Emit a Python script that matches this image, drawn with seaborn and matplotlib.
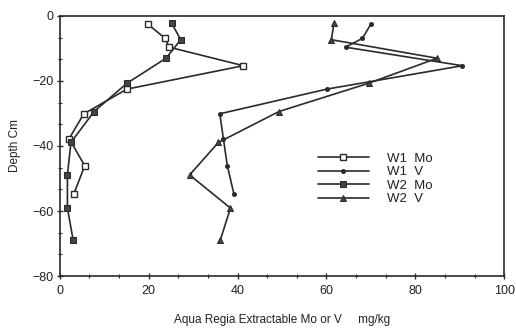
import numpy as np
import pandas as pd
import matplotlib
matplotlib.use("Agg")
import matplotlib.pyplot as plt
from matplotlib.ticker import MultipleLocator
import seaborn as sns

# Depth profiles (cm, negative downward) and aqua regia extractable contents (mg/kg)
w1_depth = [-2.5, -6.9, -9.6, -15.3, -22.5, -30.1, -37.7, -46.1, -54.9]
w1_mo = [19.8, 23.7, 24.6, 41.3, 15.1, 5.4, 2.1, 5.6, 3.1]
w1_v = [70.0, 68.1, 64.3, 90.6, 60.1, 36.0, 36.8, 37.7, 39.2]

w2_depth = [-2.3, -7.3, -13.0, -20.7, -29.4, -38.9, -48.9, -59.1, -69.0]
w2_mo = [25.2, 27.2, 23.9, 15.1, 7.7, 2.5, 1.7, 1.7, 3.0]
w2_v = [61.7, 61.1, 84.9, 69.5, 49.3, 35.7, 29.2, 38.4, 36.1]

series_labels = ["W1  Mo", "W1  V", "W2  Mo", "W2  V"]

frames = []
for lab, vals, dep in zip(series_labels, [w1_mo, w1_v, w2_mo, w2_v],
                          [w1_depth, w1_depth, w2_depth, w2_depth]):
    frames.append(pd.DataFrame({"value": vals, "depth": dep, "series": lab}))
df = pd.concat(frames, ignore_index=True)

sns.set_theme(style="white")
plt.rcParams["font.family"] = ["Liberation Sans", "DejaVu Sans"]

fig = plt.figure(figsize=(5.16, 3.30), dpi=100)
ax = fig.add_axes([0.116, 0.1636, 0.861, 0.788])

ink = "#2a2a2a"
styles = {
    "W1  Mo": dict(marker="s", markersize=5, markerfacecolor="white", markeredgecolor=ink, markeredgewidth=1.0),
    "W1  V": dict(marker="o", markersize=2.8, markerfacecolor=ink, markeredgecolor=ink),
    "W2  Mo": dict(marker="s", markersize=4.5, markerfacecolor="#444444", markeredgecolor=ink),
    "W2  V": dict(marker="^", markersize=4.5, markerfacecolor="#444444", markeredgecolor=ink),
}

for lab in series_labels:
    sub = df[df["series"] == lab]
    sns.lineplot(data=sub, x="value", y="depth", sort=False, estimator=None,
                 color=ink, linewidth=1.2, label=lab, ax=ax, **styles[lab])

ax.set_xlim(0, 100)
ax.set_ylim(-80, 0)
ax.xaxis.set_major_locator(MultipleLocator(20))
ax.yaxis.set_major_locator(MultipleLocator(20))
ax.xaxis.set_minor_locator(MultipleLocator(20 / 3))
ax.yaxis.set_minor_locator(MultipleLocator(20 / 3))

for side in ["left", "right", "top", "bottom"]:
    ax.spines[side].set_visible(True)
    ax.spines[side].set_color(ink)
    ax.spines[side].set_linewidth(1.2)

ax.tick_params(axis="both", which="major", direction="inout", length=5, width=1.0,
               color=ink, labelsize=9, labelcolor="#222222", pad=2)
ax.tick_params(axis="both", which="minor", direction="inout", length=3, width=0.8, color=ink)
ax.tick_params(axis="x", which="both", bottom=True, top=False)
ax.tick_params(axis="y", which="both", left=True, right=False)
ax.tick_params(axis="x", which="major", pad=4)

ax.set_xlabel("Aqua Regia Extractable Mo or V     mg/kg", fontsize=8.5, color="#222222", labelpad=12)
ax.set_ylabel("Depth Cm", fontsize=8.5, color="#222222", labelpad=8)

leg = ax.legend(loc="upper left", bbox_to_anchor=(0.57, 0.495), frameon=False,
                fontsize=9.5, handlelength=3.8, handletextpad=1.4, labelspacing=0.1,
                borderaxespad=0)
for t in leg.get_texts():
    t.set_color("#222222")

fig.savefig("out.png", dpi=100, facecolor="white")
